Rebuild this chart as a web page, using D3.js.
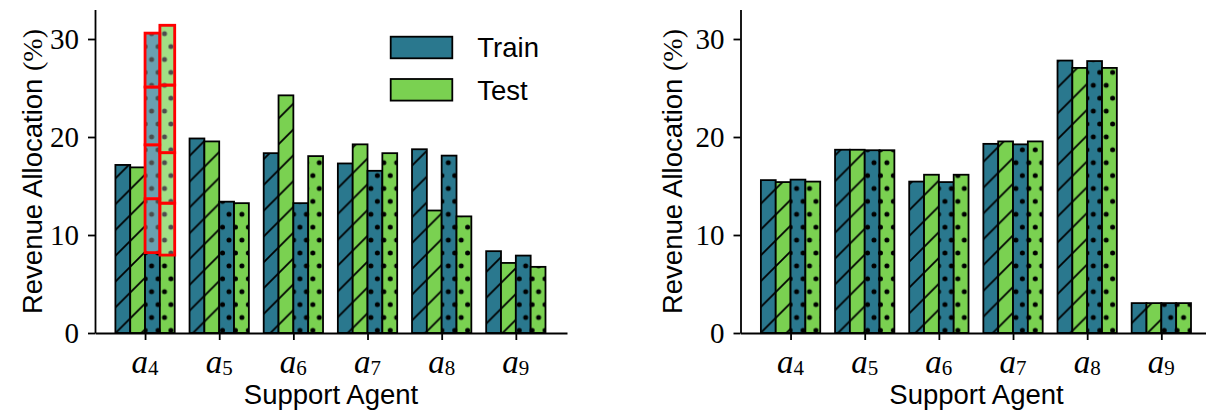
<!DOCTYPE html>
<html><head><meta charset="utf-8">
<script src="https://cdn.jsdelivr.net/npm/d3@7"></script>
<style>body{margin:0;background:#fff} svg{display:block}</style>
</head><body><svg id="c" width="1206" height="412"></svg>
<script>
// ---- data ----
const categories = ["4","5","6","7","8","9"];
const seriesNames = ["Train","Test"];
const yTicks = [0,10,20,30];

const leftTrainHatch = [17.15, 19.85, 18.35, 17.3, 18.75, 8.35];
const leftTestHatch  = [16.9, 19.55, 24.25, 19.25, 12.5, 7.15];
const leftTrainDot   = [30.6, 13.4, 13.25, 16.55, 18.1, 7.9];
const leftTestDot    = [31.4, 13.25, 18.05, 18.35, 11.9, 6.75];

const rightTrainHatch = [15.6, 18.7, 15.45, 19.3, 27.8, 3.05];
const rightTestHatch  = [15.4, 18.7, 16.15, 19.55, 27.05, 3.05];
const rightTrainDot   = [15.65, 18.65, 15.4, 19.25, 27.75, 3.05];
const rightTestDot    = [15.45, 18.65, 16.15, 19.55, 27.05, 3.05];

// highlighted stacked segments (boundaries) on the a4 dotted bars of the left panel
const highlightTrainDot = [8.2, 13.7, 19.2, 25.1, 30.6];
const highlightTestDot  = [7.95, 13.25, 18.4, 25.3, 31.4];

// ---- style ----
const TEAL = "#2a788e", GREEN = "#7ad151";
const SANS = "'Liberation Sans', Arial, sans-serif";
const SERIF = "'Liberation Serif', 'Times New Roman', serif";

const svg = d3.select("#c");
svg.append("rect").attr("width",1206).attr("height",412).attr("fill","#fff");
const defs = svg.append("defs");

const S = 25.8;          // hatch line spacing
const W = 12.9;          // dot spacing
function makePatterns(name, color){
  const h = defs.append("pattern").attr("id","hatch-"+name)
    .attr("patternUnits","userSpaceOnUse").attr("width",S).attr("height",S)
    .attr("patternTransform","translate(6,4)");
  h.append("rect").attr("width",S).attr("height",S).attr("fill",color);
  h.append("path")
    .attr("d",`M0,${S} L${S},0 M${-S/2},${S/2} L${S/2},${-S/2} M${S/2},${1.5*S} L${1.5*S},${S/2}`)
    .attr("stroke","#000").attr("stroke-width",1.8).attr("fill","none");
  const d = defs.append("pattern").attr("id","dot-"+name)
    .attr("patternUnits","userSpaceOnUse").attr("width",W).attr("height",2*W)
    .attr("patternTransform","translate(9.7,7.9)");
  d.append("rect").attr("width",W).attr("height",2*W).attr("fill",color);
  [[0,0],[W,0],[0,2*W],[W,2*W],[W/2,W]].forEach(([cx,cy])=>{
    d.append("circle").attr("cx",cx).attr("cy",cy).attr("r",2.5).attr("fill","#000");
  });
}
makePatterns("train", TEAL);
makePatterns("test", GREEN);

const y = d3.scaleLinear().domain([0,33]).range([333,9.6]);

function panel(cfg){
  const x = d3.scaleLinear().domain([-0.675,5.69]).range(cfg.xr);
  const g = svg.append("g");
  const series = [
    {vals:cfg.trainHatch, fill:"url(#hatch-train)"},
    {vals:cfg.testHatch,  fill:"url(#hatch-test)"},
    {vals:cfg.trainDot,   fill:"url(#dot-train)"},
    {vals:cfg.testDot,    fill:"url(#dot-test)"}
  ];
  const bw = x(0.2)-x(0);
  series.forEach((s,j)=>{
    g.append("g").selectAll("rect").data(s.vals).join("rect")
      .attr("x",(v,i)=>x(i-0.4+0.2*j))
      .attr("y",v=>y(v))
      .attr("width",bw)
      .attr("height",v=>y(0)-y(v))
      .attr("fill",s.fill)
      .attr("stroke","#000").attr("stroke-width",1.8);
  });
  if(cfg.highlight){
    cfg.highlight.forEach(h=>{
      const segs = d3.pairs(h.bounds);
      g.append("g").selectAll("rect").data(segs).join("rect")
        .attr("x",x(h.cat-0.4+0.2*h.j))
        .attr("width",bw)
        .attr("y",d=>y(d[1]))
        .attr("height",d=>y(d[0])-y(d[1]))
        .attr("fill","#fff").attr("fill-opacity",0.3)
        .attr("stroke","#ff0000").attr("stroke-width",2.8);
    });
  }
  // axes
  const ya = d3.axisLeft(y).tickValues(yTicks).tickSize(7).tickSizeOuter(0).tickPadding(9);
  const yg = g.append("g").attr("transform",`translate(${cfg.xr[0]},0)`).call(ya)
    .attr("font-family",SERIF).attr("font-size",29);
  yg.select(".domain").attr("stroke-width",1.8);
  yg.selectAll(".tick line").attr("stroke-width",1.8);
  yg.selectAll(".tick text").attr("font-family",SERIF).attr("font-size",29).attr("fill","#000").attr("dy","0.34em");

  const xa = d3.axisBottom(x).tickValues(d3.range(categories.length)).tickSize(7).tickSizeOuter(0).tickFormat("");
  const xg = g.append("g").attr("transform",`translate(0,${y(0)})`).call(xa);
  xg.select(".domain").attr("stroke-width",1.8);
  xg.selectAll(".tick line").attr("stroke-width",1.8);

  // x tick labels: a_k
  categories.forEach((c,i)=>{
    const t = g.append("text").attr("x",x(i)).attr("y",372.5).attr("text-anchor","middle")
      .attr("font-family",SERIF).attr("fill","#000");
    t.append("tspan").attr("font-style","italic").attr("font-size",33).text("a");
    t.append("tspan").attr("font-size",21).attr("dy",2).text(c);
  });

  // axis titles
  g.append("text").attr("x",(cfg.xr[0]+cfg.xr[1])/2).attr("y",404).attr("text-anchor","middle")
    .attr("font-family",SANS).attr("font-size",27.5).attr("fill","#000").text("Support Agent");
  const yl = g.append("text").attr("transform",`translate(${cfg.ylx},171.5) rotate(-90)`)
    .attr("text-anchor","middle").attr("font-family",SANS).attr("font-size",27.5).attr("fill","#000");
  yl.append("tspan").text("Revenue Allocation ");
  yl.append("tspan").attr("font-family",SERIF).attr("font-size",28).text("(%)");

  if(cfg.legend){
    const lg = g.append("g");
    const colors = [TEAL, GREEN];
    seriesNames.forEach((n,k)=>{
      const yy = 36.7 + k*42.3;
      lg.append("rect").attr("x",390.7).attr("y",yy).attr("width",61.6).attr("height",21.6)
        .attr("fill",colors[k]).attr("stroke","#000").attr("stroke-width",1.8);
      lg.append("text").attr("x",477.3).attr("y",yy+20.6).attr("font-family",SANS)
        .attr("font-size",27.5).attr("fill","#000").text(n);
    });
  }
}

panel({xr:[95,567], ylx:42, trainHatch:leftTrainHatch, testHatch:leftTestHatch,
  trainDot:leftTrainDot, testDot:leftTestDot, legend:true,
  highlight:[{cat:0,j:2,bounds:highlightTrainDot},{cat:0,j:3,bounds:highlightTestDot}]});
panel({xr:[740.5,1212.5], ylx:682, trainHatch:rightTrainHatch, testHatch:rightTestHatch,
  trainDot:rightTrainDot, testDot:rightTestDot, legend:false});
</script>
</body></html>
